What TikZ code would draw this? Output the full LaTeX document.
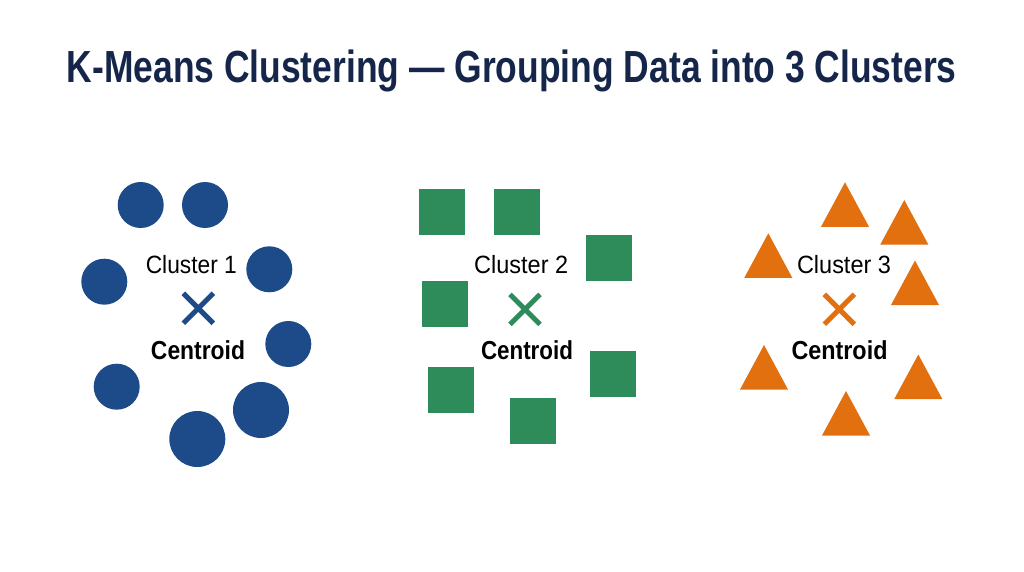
\documentclass[tikz,border=0pt]{standalone}
\usepackage{fontspec}
\setmainfont{Liberation Sans}
\usepackage{graphicx}
\definecolor{navy}{HTML}{15264A}
\definecolor{cblue}{HTML}{1D4B8A}
\definecolor{cgreen}{HTML}{2E8B5A}
\definecolor{corange}{HTML}{E3700F}
\newcommand{\fitw}[2]{\resizebox{#1}{\height}{#2}}
\begin{document}
\begin{tikzpicture}[x=1pt,y=-1pt,
  dot/.style={circle,fill=cblue,inner sep=0pt,minimum size=46pt},
  bigdot/.style={dot,minimum size=56pt},
  sq/.style={rectangle,fill=cgreen,inner sep=0pt,minimum size=46pt},
  lbl/.style={anchor=base,inner sep=0pt,text=black,font=\fontsize{25}{25}\selectfont},
  cen/.style={anchor=base,inner sep=0pt,text=black,font=\fontsize{26}{26}\selectfont\bfseries},
  xmark/.style={line width=5pt}]
\useasboundingbox[fill=white] (0,0) rectangle (1024,572);
\node[anchor=base,inner sep=0pt,text=navy,font=\fontsize{45}{45}\selectfont\bfseries] (title) at (511.7,83) {\fitw{890pt}{K-Means Clustering — Grouping Data into 3 Clusters}};
% Cluster 1
\node[dot] (c1a) at (140.7,205) {};
\node[dot] (c1b) at (205,205) {};
\node[dot] (c1c) at (269.3,269.3) {};
\node[dot] (c1d) at (104.3,281.7) {};
\node[dot] (c1e) at (288.3,344) {};
\node[dot] (c1f) at (116.7,386.7) {};
\node[bigdot] (c1g) at (261,410) {};
\node[bigdot] (c1h) at (197.3,439) {};
\node[lbl] (l1) at (191.3,273.3) {\fitw{91pt}{Cluster 1}};
\coordinate (x1) at (198.3,308.3);
\draw[xmark,cblue] ([shift={(-15,-15)}]x1) -- ([shift={(15,15)}]x1) ([shift={(-15,15)}]x1) -- ([shift={(15,-15)}]x1);
\node[cen] (k1) at (198,359.3) {\fitw{94pt}{Centroid}};
% Cluster 2
\node[sq] (s2a) at (442.3,211.5) {};
\node[sq] (s2b) at (517,211.5) {};
\node[sq] (s2c) at (608.7,258.3) {};
\node[sq] (s2d) at (444.5,303.5) {};
\node[sq] (s2e) at (612.8,373.5) {};
\node[sq] (s2f) at (450.8,390) {};
\node[sq] (s2g) at (532.8,421.2) {};
\node[lbl] (l2) at (521.2,273.3) {\fitw{94pt}{Cluster 2}};
\coordinate (x2) at (525,309.3);
\draw[xmark,cgreen] ([shift={(-15,-15)}]x2) -- ([shift={(15,15)}]x2) ([shift={(-15,15)}]x2) -- ([shift={(15,-15)}]x2);
\node[cen] (k2) at (527,359.3) {\fitw{92pt}{Centroid}};
% Cluster 3
\newcommand{\tri}[3]{\fill[corange] (#1-24,#2+44.5) -- (#1,#2) -- (#1+24,#2+44.5) -- cycle; \coordinate (#3) at (#1,#2+30);}
\tri{845}{182.3}{t3a}
\tri{904.3}{200}{t3b}
\tri{768.3}{233.3}{t3c}
\tri{915}{260.5}{t3d}
\tri{764}{345}{t3e}
\tri{918.3}{354.5}{t3f}
\tri{846}{391}{t3g}
\node[lbl] (l3) at (844,273.3) {\fitw{94pt}{Cluster 3}};
\coordinate (x3) at (839.3,309.3);
\draw[xmark,corange] ([shift={(-15,-15)}]x3) -- ([shift={(15,15)}]x3) ([shift={(-15,15)}]x3) -- ([shift={(15,-15)}]x3);
\node[cen] (k3) at (839.5,359.3) {\fitw{96pt}{Centroid}};
\end{tikzpicture}
\end{document}
